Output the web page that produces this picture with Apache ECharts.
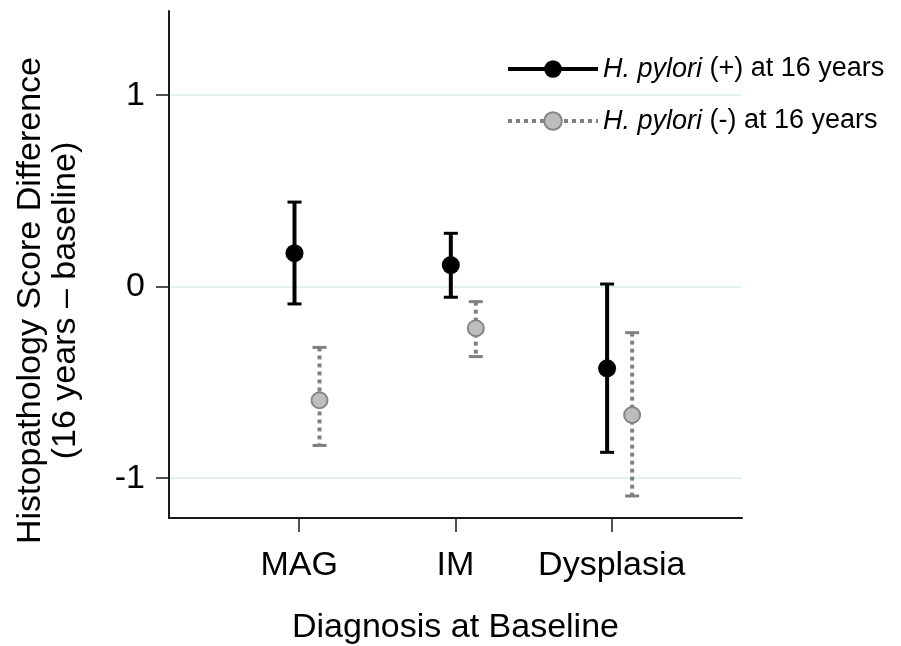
<!DOCTYPE html>
<html>
<head>
<meta charset="utf-8">
<script src="https://cdn.jsdelivr.net/npm/echarts@6/dist/echarts.min.js"></script>
<style>
  html, body { margin: 0; padding: 0; background: #fff; }
  #chart { width: 901px; height: 646px; }
</style>
</head>
<body>
<div id="chart"></div>
<script>
// categories on the x axis
var categories = ['MAG', 'IM', 'Dysplasia']
var catPos = [1, 2, 3]
var yTicks = [-1, 0, 1]

// H. pylori (+) at 16 years
var posMean = [0.175, 0.113, -0.426]
var posLow = [-0.09, -0.055, -0.865]
var posHigh = [0.442, 0.279, 0.014]

// H. pylori (-) at 16 years
var negMean = [-0.593, -0.217, -0.67]
var negLow = [-0.829, -0.365, -1.093]
var negHigh = [-0.317, -0.078, -0.24]

// small horizontal shift so the two groups do not overlap
var posShift = -0.03
var negShift = 0.13

var fontName = 'Liberation Sans'

// points with a gap between them, so the line series draws only markers
function points (mean, shift) {
  var out = []
  mean.forEach(function (v, i) {
    if (i > 0) out.push('-')
    out.push([catPos[i] + shift, v])
  })
  return out
}
function bars (low, high, shift) {
  return low.map(function (v, i) { return [catPos[i] + shift, v, high[i]] })
}

function barRenderer (color, dash) {
  return function (params, api) {
    var x = api.value(0)
    var top = api.coord([x, api.value(2)])
    var bot = api.coord([x, api.value(1)])
    var half = 7
    return {
      type: 'group',
      children: [
        { type: 'line', shape: { x1: top[0], y1: top[1], x2: bot[0], y2: bot[1] },
          style: { stroke: color, lineWidth: 4, lineDash: dash } },
        { type: 'line', shape: { x1: top[0] - half, y1: top[1], x2: top[0] + half, y2: top[1] },
          style: { stroke: color, lineWidth: 3 } },
        { type: 'line', shape: { x1: bot[0] - half, y1: bot[1], x2: bot[0] + half, y2: bot[1] },
          style: { stroke: color, lineWidth: 3 } }
      ]
    }
  }
}

var myChart = echarts.init(document.getElementById('chart'))
myChart.setOption({
  animation: false,
  backgroundColor: '#fff',
  textStyle: { fontFamily: fontName },
  grid: { left: 169, right: 159, top: 11, bottom: 128, outerBoundsMode: 'none' },
  legend: {
    orient: 'vertical',
    left: 501,
    top: 49,
    itemWidth: 90,
    itemHeight: 22,
    itemGap: 22,
    data: [
      { name: 'pos', lineStyle: { width: 4 } },
      { name: 'neg', lineStyle: { width: 4 } }
    ],
    formatter: function (name) {
      return name === 'pos' ? '{i|H. pylori} (+) at 16 years' : '{i|H. pylori} (-) at 16 years'
    },
    textStyle: {
      fontFamily: fontName,
      fontSize: 27,
      color: '#000',
      lineHeight: 30,
      rich: { i: { fontStyle: 'italic', fontSize: 27, fontFamily: fontName, color: '#000' } }
    }
  },
  xAxis: {
    type: 'value',
    min: 0.167,
    max: 3.833,
    name: 'Diagnosis at Baseline',
    nameLocation: 'middle',
    nameGap: 93,
    nameTextStyle: { fontSize: 34, color: '#000', fontFamily: fontName },
    axisLine: { show: true, onZero: false, lineStyle: { color: '#1a1a1a', width: 2 } },
    axisTick: { show: true, length: 14, customValues: catPos, lineStyle: { color: '#1a1a1a', width: 1.5 } },
    axisLabel: {
      customValues: catPos,
      margin: 31,
      fontSize: 34,
      color: '#000',
      formatter: function (v) { return categories[catPos.indexOf(v)] }
    },
    splitLine: { show: false }
  },
  yAxis: {
    type: 'value',
    min: -1.208,
    max: 1.44,
    name: 'Histopathology Score Difference\n(16 years \u2013 baseline)',
    nameLocation: 'middle',
    nameRotate: 90,
    nameGap: 86,
    nameTextStyle: { fontSize: 34, lineHeight: 35, color: '#000', fontFamily: fontName, padding: [0, 72, 0, 0] },
    axisLine: { show: true, lineStyle: { color: '#1a1a1a', width: 2 } },
    axisTick: { show: true, length: 13, customValues: yTicks, lineStyle: { color: '#1a1a1a', width: 1.5 } },
    axisLabel: { customValues: yTicks, margin: 24, fontSize: 34, color: '#000' },
    splitLine: { show: true, lineStyle: { color: '#e2f0ee', width: 2 } }
  },
  series: [
    {
      name: 'posBars',
      type: 'custom',
      renderItem: barRenderer('#000', null),
      encode: { x: 0, y: [1, 2] },
      data: bars(posLow, posHigh, posShift),
      z: 2
    },
    {
      name: 'negBars',
      type: 'custom',
      renderItem: barRenderer('#808080', [4, 4]),
      encode: { x: 0, y: [1, 2] },
      data: bars(negLow, negHigh, negShift),
      z: 2
    },
    {
      name: 'pos',
      type: 'line',
      connectNulls: false,
      symbol: 'circle',
      symbolSize: 18,
      itemStyle: { color: '#000' },
      lineStyle: { color: '#000', width: 4 },
      data: points(posMean, posShift),
      z: 3
    },
    {
      name: 'neg',
      type: 'line',
      connectNulls: false,
      symbol: 'circle',
      symbolSize: 16,
      itemStyle: { color: '#bdbdbd', borderColor: '#858585', borderWidth: 2 },
      lineStyle: { color: '#808080', width: 4, type: [4, 4] },
      data: points(negMean, negShift),
      z: 3
    }
  ]
})
</script>
</body>
</html>
